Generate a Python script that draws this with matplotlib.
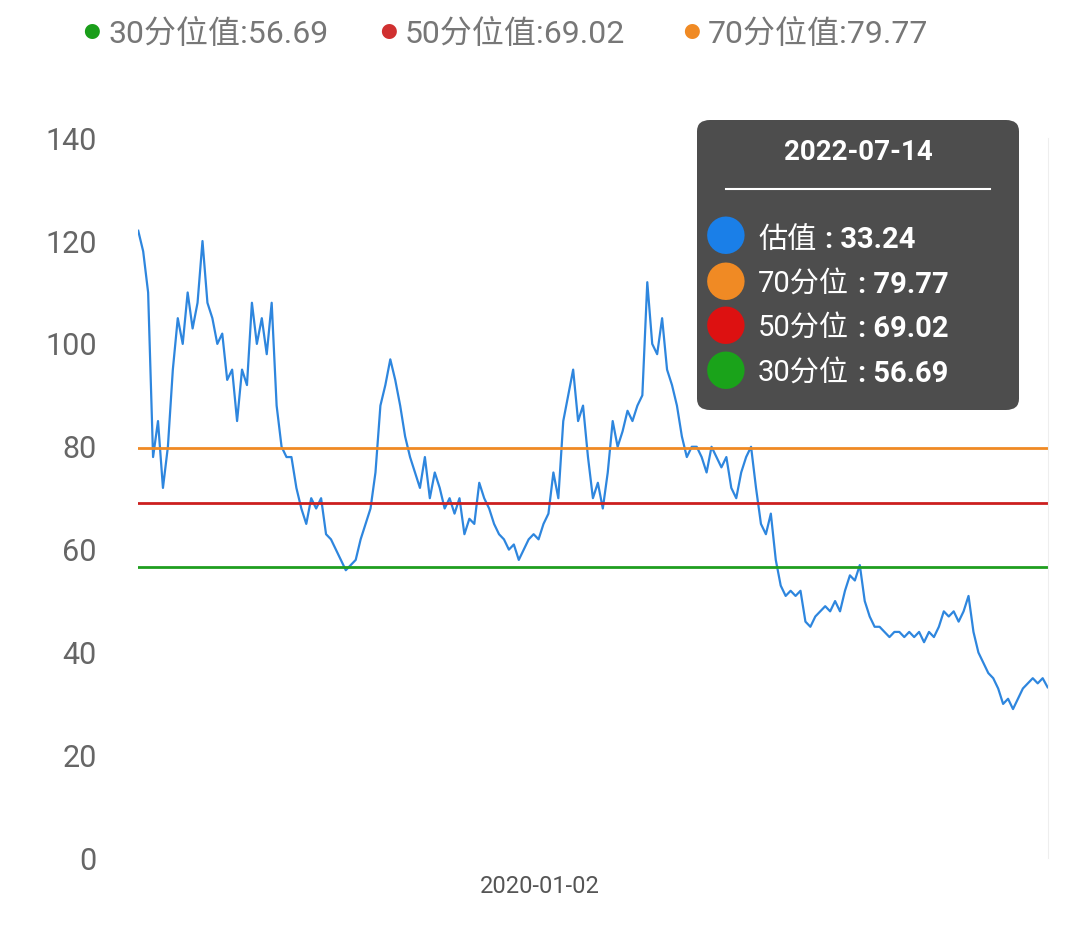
import matplotlib
matplotlib.use("Agg")
import matplotlib.pyplot as plt
import pandas as pd
from matplotlib.patches import FancyBboxPatch

plt.rcParams['font.family'] = ['Roboto', 'Noto Sans CJK SC', 'DejaVu Sans']

values = [122,118,110,78,85,72,80,95,105,100,110,103,108,120,108,105,100,102,93,95,85,95,92,108,100,105,98,108,88,80,
          78,78,72,68,65,70,68,70,63,62,60,58,56,57,58,62,65,68,75,88,92,97,93,88,82,78,75,72,78,70,
          75,72,68,70,67,70,63,66,65,73,70,68,65,63,62,60,61,58,60,62,63,62,65,67,75,70,85,90,95,85,
          88,78,70,73,68,75,85,80,83,87,85,88,90,112,100,98,105,95,92,88,82,78,80,80,78,75,80,78,76,78,
          72,70,75,78,80,72,65,63,67,58,53,51,52,51,52,46,45,47,48,49,48,50,48,52,55,54,57,50,47,45,
          45,44,43,44,44,43,44,43,44,42,44,43,45,48,47,48,46,48,51,44,40,38,36,35,33,30,31,29,31,33,
          34,35,34,35,33.24]
end_date = "2022-07-14"
tick_label = "2020-01-02"
p30, p50, p70 = 56.69, 69.02, 79.77
yticks = [0, 20, 40, 60, 80, 100, 120, 140]

dates = pd.date_range(end=end_date, periods=len(values), freq="9D")

fig = plt.figure(figsize=(10.8, 9.4), dpi=100)
ax = fig.add_axes([0.128, 0.087, 0.842, 0.766])
ax.plot(dates, values, color="#2e86de", lw=1.6)
ax.axhline(p70, color="#f08a24", lw=2)
ax.axhline(p50, color="#cc1f1f", lw=2)
ax.axhline(p30, color="#1f9e1f", lw=2)
ax.set_ylim(0, 140)
ax.set_xlim(dates[0], dates[-1])
ax.set_yticks(yticks)
ax.set_yticklabels([str(v) for v in yticks], fontsize=22, color="#666666")
ax.set_xticks([pd.Timestamp(tick_label)])
ax.set_xticklabels([tick_label], fontsize=17, color="#555555")
ax.tick_params(length=0, pad=12)
ax.tick_params(axis='y', pad=30)
for s in ["top", "left", "bottom"]:
    ax.spines[s].set_visible(False)
ax.spines["right"].set_color("#eeeeee")

# legend
items = [("#1a9e1a", f"30分位值:{p30}", 0.085), ("#d03030", f"50分位值:{p50}", 0.36), ("#f08a24", f"70分位值:{p70}", 0.64)]
for c, t, x in items:
    fig.text(x, 0.964, "●", color=c, fontsize=12, va="center", ha="center")
    fig.text(x + 0.015, 0.964, t, color="#777777", fontsize=23, va="center")

# tooltip
bx, by, bw, bh = 697/1080, 1-410/940, 322/1080, 290/940
fig.patches.append(FancyBboxPatch((bx, by), bw, bh, boxstyle="round,pad=0,rounding_size=0.012",
                                  transform=fig.transFigure, fc="#4d4d4d", ec="none", zorder=5))
fig.text(bx + bw/2, 1-153/940, end_date, color="white", fontsize=20, fontweight="bold", ha="center", va="center", zorder=6)
fig.lines.append(plt.Line2D([726/1080, 990/1080], [1-189/940]*2, color="white", lw=1.5, transform=fig.transFigure, zorder=6))
rows = [("#1a7fe8", "估值", "33.24", 240), ("#f08a24", "70分位", "79.77", 285),
        ("#dd1111", "50分位", "69.02", 329), ("#1aa31a", "30分位", "56.69", 374)]
r = fig.canvas.get_renderer()
for c, lab, v, y in rows:
    fig.text(726/1080, 1-y/940, "●", color=c, fontsize=30, ha="center", va="center", zorder=6)
    t = fig.text(758/1080, 1-y/940, lab, color="white", fontsize=21, va="center", zorder=6)
    x1 = t.get_window_extent(renderer=r).x1 / 1080
    fig.text(x1 + 0.008, 1-y/940, ": " + v,
             color="white", fontsize=21, fontweight="bold", va="center", zorder=6)

fig.savefig("out.png", dpi=100)
